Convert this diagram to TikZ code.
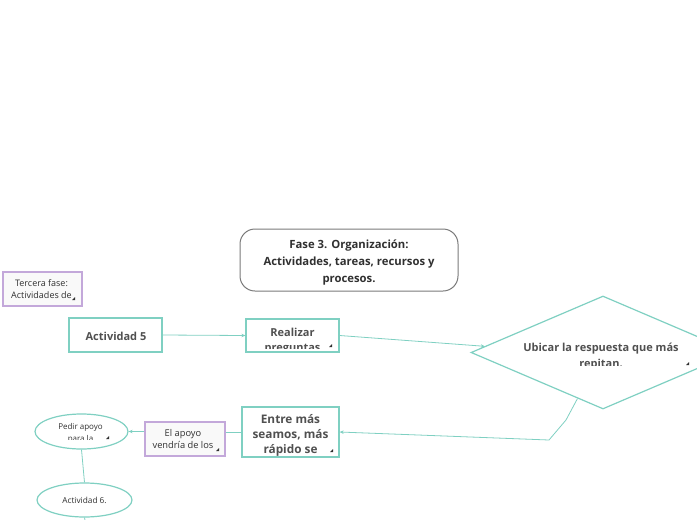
\documentclass[tikz,border=0pt]{standalone}
\usepackage{fontspec}
\setmainfont{Open Sans}
\usetikzlibrary{shapes.geometric,arrows.meta}
\definecolor{teal1}{HTML}{7FD0C2}
\definecolor{purp1}{HTML}{C3A8DA}
\definecolor{gray1}{HTML}{7A7A7A}
\definecolor{txt1}{HTML}{505050}
\definecolor{txt2}{HTML}{303030}
\definecolor{fill1}{HTML}{F9F9F9}
\newcommand\mkr[1]{\fill[txt2] (#1) -- ++(-3,0) -- ++(3,-3) -- cycle;}
\begin{document}
\begin{tikzpicture}[x=1pt,y=-1pt,
  tealbox/.style={draw=teal1,line width=1.2pt,fill=white,minimum width=#1,inner sep=0pt},
  purpbox/.style={draw=purp1,line width=1.2pt,fill=fill1,inner sep=0pt},
  bigtxt/.style={font=\fontsize{11}{15}\selectfont\bfseries,text=txt1,align=center},
  smtxt/.style={font=\fontsize{9}{12}\selectfont,text=txt2,align=center},
  conn/.style={draw=teal1,line width=0.8pt},
  arr/.style={conn,-{Stealth[length=4pt,width=3.5pt]}}]
\useasboundingbox (0,0) rectangle (697,520);

% title
\node[draw=gray1,line width=1pt,rounded corners=15pt,minimum width=218pt,minimum height=62pt,inner sep=0pt] (title) at (349,260) {};
\node[align=center,font=\fontsize{11.3}{17}\selectfont\bfseries,text=txt2] at (349,262.5)
  {Fase 3. Organización:\\Actividades, tareas, recursos y\\procesos.};

% tercera fase
\node[purpbox,minimum width=79pt,minimum height=34pt] (ter) at (42.5,289) {};
\node[smtxt] at (41.5,289) {Tercera fase:\\Actividades de};
\mkr{75,300}

% actividad 5
\node[tealbox=93pt,minimum height=34pt] (a5) at (115.5,335) {};
\node[bigtxt] at (116,336) {Actividad 5};

% realizar preguntas
\node[tealbox=93pt,minimum height=33pt] (rea) at (292.5,335.5) {};
\begin{scope}
\clip (247,320) rectangle (338,348);
\node[bigtxt] at (292.5,341.5) {Realizar\\preguntas};
\end{scope}
\mkr{332,347}

% diamond
\node[draw=teal1,line width=1.2pt,fill=white,shape=diamond,inner sep=0pt,
  minimum width=264pt,minimum height=113pt] (dia) at (603,352.5) {};
\begin{scope}
\clip (500,330) rectangle (697,365);
\node[bigtxt,font=\fontsize{11}{16}\selectfont\bfseries] at (601,357) {Ubicar la respuesta que más\\repitan.};
\end{scope}
\mkr{689,365}

% entre mas
\node[tealbox=97pt,minimum height=50pt] (ent) at (290.5,432) {};
\begin{scope}
\clip (243,408) rectangle (338,455);
\node[bigtxt,font=\fontsize{11.8}{15}\selectfont\bfseries] at (290.5,443) {Entre más\\seamos, más\\rápido se\\logra};
\end{scope}
\mkr{333,452}

% el apoyo
\node[purpbox,minimum width=80pt,minimum height=34pt] (apo) at (185,439) {};
\node[smtxt,font=\fontsize{9.3}{11.5}\selectfont] at (183,439) {El apoyo\\vendría de los};
\mkr{219,451}

% pedir apoyo
\node[draw=teal1,line width=1.2pt,fill=white,ellipse,minimum width=93pt,minimum height=35pt,inner sep=0pt] (ped) at (81.5,431.5) {};
\begin{scope}
\clip (40,418) rectangle (125,439.5);
\node[smtxt,font=\fontsize{8}{11.5}\selectfont] at (80.5,433.5) {Pedir apoyo\\para la};
\end{scope}
\mkr{109,439}

% actividad 6
\node[draw=teal1,line width=1.2pt,fill=white,ellipse,minimum width=95pt,minimum height=34pt,inner sep=0pt] (a6) at (84.5,500) {};
\node[smtxt,font=\fontsize{8.3}{11}\selectfont] at (a6) {Actividad 6.};
\coordinate (a6out) at (86,525);

% connectors
\draw[arr] (a5.east) -- (rea.west);
\draw[arr] (rea.east) -- (dia.177);
\draw[arr] (dia.241) -- (566,420) -- (549,440) -- (ent.east);
\draw[conn] (ent.west) -- (ent.west -| apo.east);
\draw[arr] (apo.west |- ped.east) -- (ped.east);
\draw[conn] (ped.south) -- (a6.north);
\draw[conn] (a6.south) -- (a6out);
\end{tikzpicture}
\end{document}
